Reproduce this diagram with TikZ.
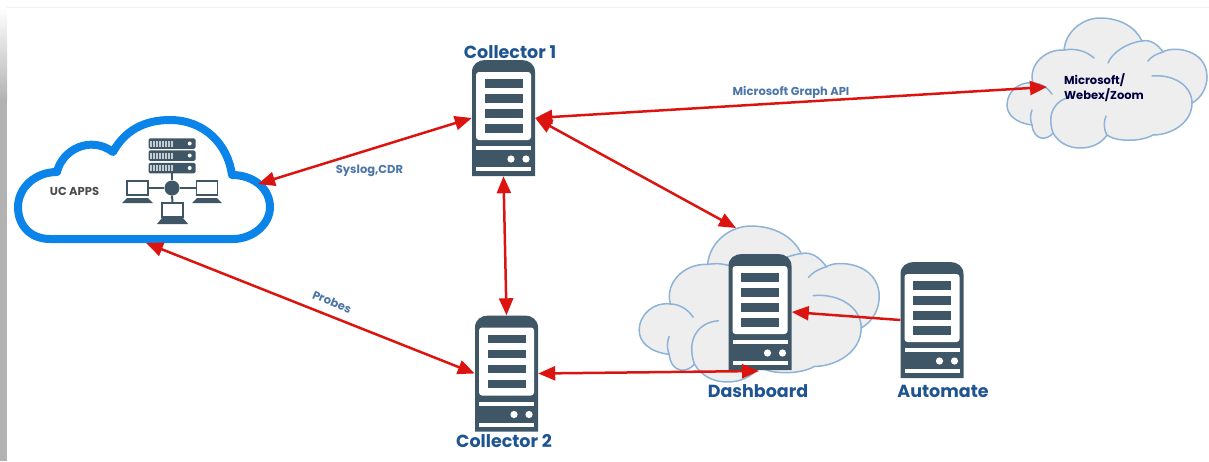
\documentclass[tikz,border=0pt]{standalone}
\usepackage{fontspec}
\setmainfont{Poppins}
\usepackage{xcolor}
\usetikzlibrary{arrows.meta,positioning}
\definecolor{slate}{HTML}{3F5666}
\definecolor{linkred}{HTML}{DC1410}
\definecolor{titleblue}{HTML}{1F5491}
\definecolor{cloudedge}{HTML}{8DB3D8}
\definecolor{cloudfill}{HTML}{EEEEEE}
\definecolor{ucblue}{HTML}{0A84E8}
\tikzset{
  serverbox/.style={rectangle,minimum width=63pt,minimum height=116pt,inner sep=0pt},
  title/.style={font=\fontsize{17.5}{20}\selectfont\bfseries,text=titleblue,inner sep=0pt},
  link/.style={font=\fontsize{11.5}{13}\selectfont\bfseries,text=titleblue!80,inner sep=0pt},
  cloudtext/.style={font=\fontsize{11.5}{15}\selectfont\bfseries,text=black!75!blue,inner sep=0pt,align=left},
  rack/.style={rectangle,fill=slate,rounded corners=1.5pt,minimum width=47pt,minimum height=10.5pt,inner sep=0pt},
  laptop/.style={rectangle,draw=slate,line width=1.3pt,fill=white,minimum width=21pt,minimum height=14pt,inner sep=0pt},
  biglink/.style={linkred,line width=2.5pt},
  lobe/.style={draw=cloudedge,line width=1.5pt,line cap=round},
  pics/server/.style={code={
    \fill[slate] (-31.5,58) -- (-31.5,-46) .. controls (-31.5,-54) and (-25,-58) .. (-18,-58) -- (18,-58) .. controls (25,-58) and (31.5,-54) .. (31.5,-46) -- (31.5,58) -- cycle;
    \fill[white,rounded corners=3pt] (-27.5,-46) rectangle (27.5,22);
    \foreach \y in {-39,-24,-9,6} {\fill[slate] (-19,\y) rectangle (19,\y+8.5);}
    \fill[white] (-27.5,28) rectangle (27.5,32);
    \fill[white] (-27.5,49) rectangle (27.5,53);
    \fill[white] (7.5,41) circle (3.6);
    \fill[white] (22.5,41) circle (3.6);
  }},
  pics/greycloud/.style={code={
    % outline first, then the inner lobes
    \path[lobe,fill=cloudfill] (26,107) .. controls (10,105) and (1,97) .. (1,87)
      .. controls (1,73) and (14,63) .. (27,65)
      .. controls (22,48) and (38,31) .. (58,32)
      .. controls (60,12) and (78,0) .. (94,0)
      .. controls (115,0) and (130,10) .. (136,23)
      .. controls (145,21) and (152,27) .. (157,34)
      .. controls (165,28) and (201,30) .. (201,59)
      .. controls (201,70) and (195,80) .. (186,85)
      .. controls (186,105) and (165,117) .. (147,117)
      .. controls (135,124) and (110,124) .. (101,117)
      .. controls (95,126) and (85,130) .. (74,130)
      .. controls (62,130) and (52,124) .. (47,115)
      .. controls (42,122) and (28,124) .. (26,107) -- cycle;
    \draw[lobe] (27,65) .. controls (35,65) and (42,70) .. (46,76);
    \draw[lobe] (58,32) .. controls (70,30) and (80,33) .. (88,40);
    \draw[lobe] (136,23) .. controls (120,25) and (106,35) .. (102,45);
    \draw[lobe] (157,34) .. controls (150,36) and (145,39) .. (142,43);
    \draw[lobe] (186,85) .. controls (186,68) and (168,56) .. (146,58);
    \draw[lobe] (26,107) .. controls (24,102) and (24,97) .. (26,92);
    \draw[lobe] (47,115) .. controls (40,95) and (50,80) .. (67,79);
    \draw[lobe] (101,117) .. controls (97,110) and (98,103) .. (100,98);
  }}
}
\begin{document}
\begin{tikzpicture}[x=1pt,y=-1pt,>={Triangle[length=17pt,width=14pt]}]
    \useasboundingbox (0,0) rectangle (1209,461);
    \shade[top color=white,bottom color=black!30] (0,8) rectangle (7,100);
    \fill[black!30] (0,100) rectangle (7,461);
    \draw[black!6,line width=1pt] (7,7.5) -- (1209,7.5);

    % clouds
    \pic at (1006,18) {greycloud};
    \pic[scale=1.2] at (638,226) {greycloud};
    \draw[ucblue,line width=8pt,line join=round,fill=white] (50,239) .. controls (30,239) and (18,225) .. (18,207)
      .. controls (18,188) and (35,172) .. (57,172)
      .. controls (62,150) and (90,135) .. (113,152)
      .. controls (125,130) and (145,120) .. (170,120)
      .. controls (205,120) and (228,145) .. (232,175)
      .. controls (255,175) and (270,190) .. (270,207)
      .. controls (270,225) and (252,239) .. (233,239) -- cycle;

    % network inside UC APPS
    \node[circle,fill=slate,minimum size=15pt,inner sep=0pt] (hub) at (172,188) {};
    \node[rack] (rack1) at (172,143.5) {};
    \node[rack] (rack2) at (172,155.5) {};
    \node[rack] (rack3) at (172,168) {};
    \foreach \r in {rack1,rack2,rack3} {
      \foreach \d in {0,3,...,21} {\fill[white!70!slate] ([xshift=2pt+\d*1pt]\r.west) ++(0,-3) rectangle ++(2,6);}
      \fill[white] ([xshift=-6pt]\r.east) circle (2);
    }
    \node[laptop] (lapl) at (137.5,188) {};
    \node[laptop] (lapr) at (207,188) {};
    \node[laptop] (lapb) at (172.5,210) {};
    \fill[slate] (127,198) -- (148,198) -- (153,203) -- (122,203) -- cycle;
    \fill[slate] (197,198) -- (217,198) -- (222,203) -- (192,203) -- cycle;
    \fill[slate] (162,218) -- (183,218) -- (188,224) -- (157,224) -- cycle;
    \draw[slate,line width=2pt] (rack3) -- (hub);
    \draw[slate,line width=2pt] (hub) -- (lapl);
    \draw[slate,line width=2pt] (hub) -- (lapr);
    \draw[slate,line width=2pt] (hub) -- (lapb);

    % servers
    \node[serverbox] (c1) at (503.5,118) {};
    \node[serverbox] (c2) at (506.5,373.5) {};
    \node[serverbox] (dash) at (760,312) {};
    \node[serverbox] (auto) at (932,320) {};
    \pic at (c1) {server};
    \pic at (c2) {server};
    \pic at (dash) {server};
    \pic at (auto) {server};

    % texts
    \node[font=\fontsize{11.5}{13}\selectfont\bfseries,text=black!70,inner sep=0pt] (uc) at (74.5,191) {UC APPS};
    \node[cloudtext] (ms) at (1104,87.5) {Microsoft/\\Webex/Zoom};
    \node[title] (c1t) at (510,52) {Collector 1};
    \node[title] (c2t) at (504,441) {Collector 2};
    \node[title] (dasht) at (758,391) {Dashboard};
    \node[title] (autot) at (943,391) {Automate};
    \node[link] (api) at (791,92.5) {Microsoft Graph API};
    \node[link] (sys) at (369.5,171) {Syslog,CDR};
    \node[link,rotate=-22] (pro) at (332,302) {Probes};

    % free ends of the links
    \coordinate (ucr) at (258,184);
    \coordinate (ucb) at (146,243);
    \coordinate (msl) at (1047,87);
    \coordinate (dasht1) at (736,228);
    \coordinate (dashi) at (759,371);

    \draw [<->,biglink] (ucr) to (c1.west);
    \draw [<->,biglink] (ucb) to (c2.west);
    \draw [<->,biglink] (c1.east) to (msl);
    \draw [<->,biglink] (c1.east) to (dasht1);
    \draw [<->,biglink] (c1.south) to (c2.north);
    \draw [<->,biglink] (c2.east) to (dashi);
    \draw [->,biglink] (auto.west) to (dash.east);
\end{tikzpicture}
\end{document}
